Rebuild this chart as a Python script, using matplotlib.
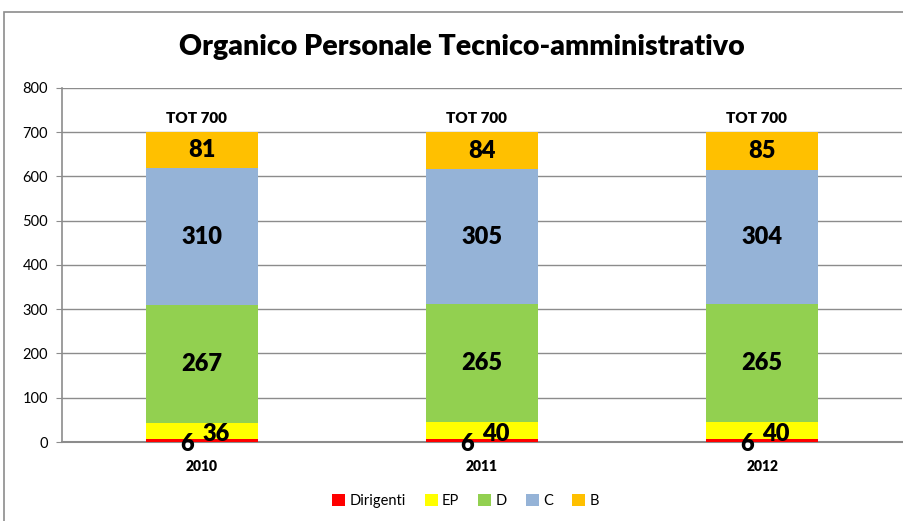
import matplotlib.pyplot as plt
import numpy as np
from matplotlib.patches import Rectangle

plt.rcParams['font.family'] = ['Lato', 'DejaVu Sans']

# Data
years = ["2010", "2011", "2012"]
categories = ["Dirigenti", "EP", "D", "C", "B"]
dirigenti = [6, 6, 6]
ep = [36, 40, 40]
d = [267, 265, 265]
c = [310, 305, 304]
b = [81, 84, 85]
series = [dirigenti, ep, d, c, b]
colors = ["#FF0000", "#FFFF00", "#92D050", "#95B3D7", "#FFC000"]

fig = plt.figure(figsize=(9.04, 5.21), dpi=100)
ax = fig.add_axes([0.0686, 0.1516, 0.9294, 0.680])

# chart border
fig.patches.append(Rectangle((4 / 904, -0.05), 1.2, (521 - 12) / 521 + 0.05,
                             transform=fig.transFigure, fill=False,
                             edgecolor="#8c8c8c", linewidth=1.2))

x = np.arange(len(years))
bottom = np.zeros(len(years))
for vals, col, name in zip(series, colors, categories):
    ax.bar(x, vals, width=0.4, bottom=bottom, color=col, label=name, zorder=3)
    bottom += np.array(vals)

# value labels
for i in range(len(years)):
    base = 0
    for k, vals in enumerate(series):
        v = vals[i]
        if k == 0:
            ax.text(x[i] - 0.055, base - 4, str(v), ha="center", va="center",
                    fontsize=17, fontweight="heavy", zorder=5)
        elif k == 1:
            ax.text(x[i] + 0.05, base + 11, str(v), ha="center", va="center",
                    fontsize=17, fontweight="heavy", zorder=5)
        else:
            ax.text(x[i], base + v / 2, str(v), ha="center", va="center",
                    fontsize=17, fontweight="heavy", zorder=5)
        base += v
    ax.text(x[i] - 0.02, base + 30, "TOT %d" % base, ha="center", va="center",
            fontsize=11, fontweight="heavy", zorder=5)

ax.set_xlim(-0.5, 2.5)
ax.set_ylim(0, 800)
ax.set_yticks(np.arange(0, 801, 100))
ax.set_xticks(x)
ax.set_xticklabels(years, fontweight="heavy", fontsize=10)
ax.tick_params(axis="y", labelsize=10.5, length=4, color="#8c8c8c", pad=6)
ax.tick_params(axis="x", length=0, pad=13)
ax.grid(axis="y", color="#8c8c8c", linewidth=1, zorder=0)
for s in ["top", "right"]:
    ax.spines[s].set_visible(False)
ax.spines["left"].set_color("#8c8c8c")
ax.spines["bottom"].set_color("#8c8c8c")
ax.spines["left"].set_linewidth(1.2)
ax.spines["bottom"].set_linewidth(1.5)

fig.text(0.511, 0.91, "Organico Personale Tecnico-amministrativo", ha="center",
         va="center", fontsize=20.5, fontweight="heavy")

fig.legend(loc="center", bbox_to_anchor=(0.515, 0.038), ncol=5, frameon=False,
           fontsize=10.5, handlelength=0.9, handleheight=0.9, handletextpad=0.3,
           columnspacing=1.3)

fig.savefig("out.png", dpi=100)
